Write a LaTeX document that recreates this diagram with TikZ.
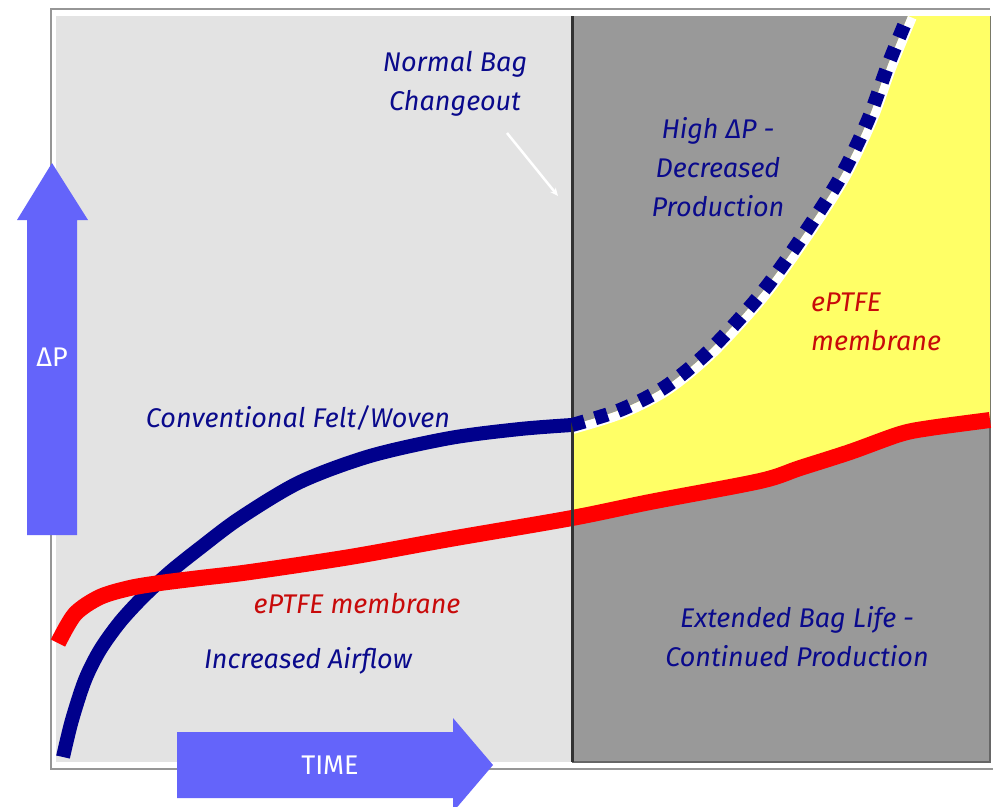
\documentclass[tikz,border=0pt]{standalone}
\usepackage{fontspec}
\setsansfont{Fira Sans}
\newfontfamily\labelfont{Fira Sans}
\usetikzlibrary{arrows.meta}

\definecolor{panellight}{RGB}{227,227,227}
\definecolor{paneldark}{RGB}{153,153,153}
\definecolor{framegrey}{RGB}{150,150,150}
\definecolor{divider}{RGB}{50,50,50}
\definecolor{navyline}{RGB}{0,0,140}
\definecolor{navytext}{RGB}{10,10,140}
\definecolor{redline}{RGB}{255,0,0}
\definecolor{redtext}{RGB}{200,10,10}
\definecolor{zoneyellow}{RGB}{255,255,102}
\definecolor{axisblue}{RGB}{100,100,250}

\tikzset{
  lbl/.style={font=\labelfont\itshape\fontsize{27}{39}\selectfont, text=navytext, align=center, inner sep=0pt},
  redlbl/.style={lbl, text=redtext},
  axislbl/.style={font=\sffamily\fontsize{27}{30}\selectfont, text=white, inner sep=0pt},
  axisarrow/.style={fill=axisblue},
  curvebase/.style={line width=14pt},
}

\begin{document}
\begin{tikzpicture}[x=1pt,y=-1pt]
\useasboundingbox (0,0) rectangle (993,806);
\fill[white] (0,0) rectangle (993,806);

% chart panels
\fill[panellight] (56,16) rectangle (572,762);
\fill[paneldark] (572,16) rectangle (990,762);
\draw[gray!80!black, line width=1.2pt] (572,762) -- (990,762) -- (990,16);

% outer frame
\draw[framegrey, line width=1.5pt] (990,9) -- (51,9) -- (51,770);
\draw[framegrey, line width=1.5pt] (51,769) -- (993,769);

% extended-life zone between the two curves
\def\dashedcurve{(572,425) (620,410) (665,387) (710,350) (760,295) (800,240) (840,178) (868,120) (888,65) (908,16)}
\path[fill=zoneyellow] plot[smooth] coordinates {\dashedcurve} -- (990,16) -- (990,420)
  -- plot[smooth] coordinates {(990,420) (930,428) (900,434) (850,452) (800,468) (760,481) (650,502) (572,518)} -- cycle;
\begin{scope}
  \clip plot[smooth] coordinates {\dashedcurve} -- (990,16) -- (990,600) -- (572,600) -- cycle;
  \draw[white, line width=18pt] plot[smooth] coordinates {\dashedcurve};
\end{scope}

% conventional felt/woven curve
\draw[navyline, curvebase] plot[smooth] coordinates {(63,757) (72,720) (85,680) (100,650) (120,622) (143,597) (170,572) (200,548) (240,518) (300,482) (370,456) (450,438) (520,429) (572,425)};

% ePTFE membrane curve
\draw[redline, line width=16pt] plot[smooth] coordinates {(58,643) (75,614) (100,597) (130,588) (160,583) (200,578) (250,572) (350,557) (450,539) (572,518) (650,502) (760,481) (800,468) (850,452) (900,434) (930,428) (990,420)};

% bag changeout divider
\draw[divider, line width=3pt] (572,16) -- (572,762);

% conventional curve beyond changeout
\draw[navyline, curvebase, dash pattern=on 13pt off 11pt] plot[smooth] coordinates {\dashedcurve};

% axis arrows
\path[axisarrow] (27,535) -- (27,220) -- (17,220) -- (52,163) -- (88,220) -- (77,220) -- (77,535) -- cycle;
\node[axislbl] (dp) at (52,357) {ΔP};
\path[axisarrow] (177,732) -- (453,732) -- (453,718) -- (493,765) -- (453,812) -- (453,798) -- (177,798) -- cycle;
\node[axislbl] (time) at (330,765) {TIME};

% labels
\node[lbl] (changeout) at (455,84) {Normal Bag\\Changeout};
\node[lbl] (highdp) at (718,167) {High ΔP -\\Decreased\\Production};
\node[redlbl, align=left, anchor=west] (zonelbl) at (811,322) {ePTFE\\membrane};
\node[lbl] (conv) at (298,418) {Conventional Felt/Woven};
\node[redlbl] (membrane) at (357,604) {ePTFE membrane};
\node[lbl] (airflow) at (308,661) {Increased Airflow};
\node[lbl] (extended) at (797,637) {Extended Bag Life -\\Continued Production};

% pointer to the changeout line
\coordinate (ptrstart) at (507,133);
\coordinate (ptrend) at (558,196);
\draw[white, line width=2.5pt, -{Stealth[length=8pt,width=7pt]}] (ptrstart) -- (ptrend);
\end{tikzpicture}
\end{document}
